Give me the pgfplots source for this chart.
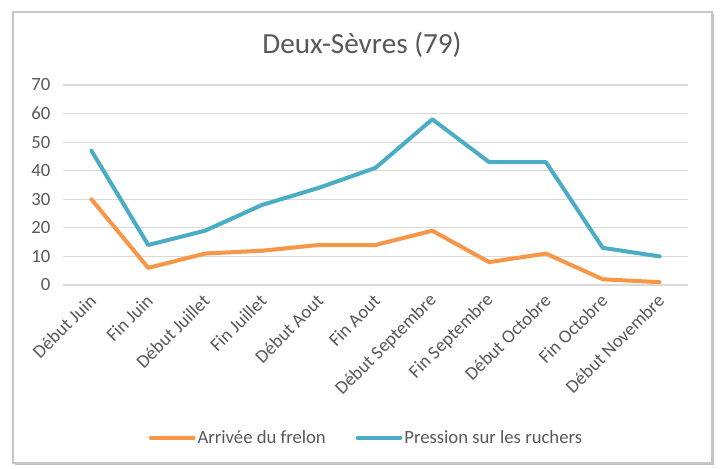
\documentclass[border=0pt]{standalone}
\usepackage{pgfplots}
\pgfplotsset{compat=1.18}
\usepackage{fontspec}
\setmainfont{Carlito}
\definecolor{orangeS}{RGB}{247,150,70}
\definecolor{blueS}{RGB}{75,172,198}
\definecolor{gridc}{RGB}{217,217,217}
\definecolor{txt}{RGB}{89,89,89}
\begin{document}
\begin{tikzpicture}
\path[use as bounding box] (0,0) rectangle (540.75pt,351pt);
% shadow and frame
\fill[black!25] (11.25pt,2.25pt) rectangle (535.5pt,340.5pt);
\fill[white] (9.75pt,3.75pt) rectangle (534pt,342pt);
\draw[black!22, line width=0.9pt] (9.75pt,3.75pt) rectangle (534pt,342pt);
\node[font=\fontsize{21.9}{24}\selectfont, text=txt] at (271.5pt,317.25pt) {Deux-Sèvres (79)};
\begin{axis}[
  at={(47.25pt,137.25pt)}, anchor=south west,
  scale only axis, width=468.75pt, height=150pt,
  xmin=-0.5, xmax=10.5, ymin=0, ymax=70,
  ytick={0,10,...,70},
  xtick={0,...,10},
  xticklabels={Début Juin,Fin Juin,Début Juillet,Fin Juillet,Début Aout,Fin Aout,Début Septembre,Fin Septembre,Début Octobre,Fin Octobre,Début Novembre},
  axis line style={draw=none},
  major tick length=0pt,
  ymajorgrids, grid style={gridc, line width=0.9pt},
  tick label style={font=\fontsize{14}{16}\selectfont, text=txt},
  /pgf/number format/assume math mode=true,
  xticklabel style={xshift=3.5pt, yshift=-7pt, rotate=45, anchor=east},
  yticklabel style={xshift=-6pt},
  legend style={at={(0.4856,-0.765)}, anchor=center, draw=none, fill=none,
    legend columns=-1, font=\fontsize{14}{16}\selectfont, text=txt,
    nodes={inner xsep=1.5pt},
    /tikz/every even column/.append style={column sep=21pt}},
  legend image code/.code={\draw[#1] (0pt,0pt) -- (32pt,0pt);},
  every axis plot/.append style={line width=3pt, line join=round, line cap=round},
]
\addplot[orangeS] coordinates {(0,30)(1,6)(2,11)(3,12)(4,14)(5,14)(6,19)(7,8)(8,11)(9,2)(10,1)};
\addlegendentry{Arrivée du frelon}
\addplot[blueS] coordinates {(0,47)(1,14)(2,19)(3,28)(4,34)(5,41)(6,58)(7,43)(8,43)(9,13)(10,10)};
\addlegendentry{Pression sur les ruchers}
\end{axis}
\end{tikzpicture}
\end{document}
